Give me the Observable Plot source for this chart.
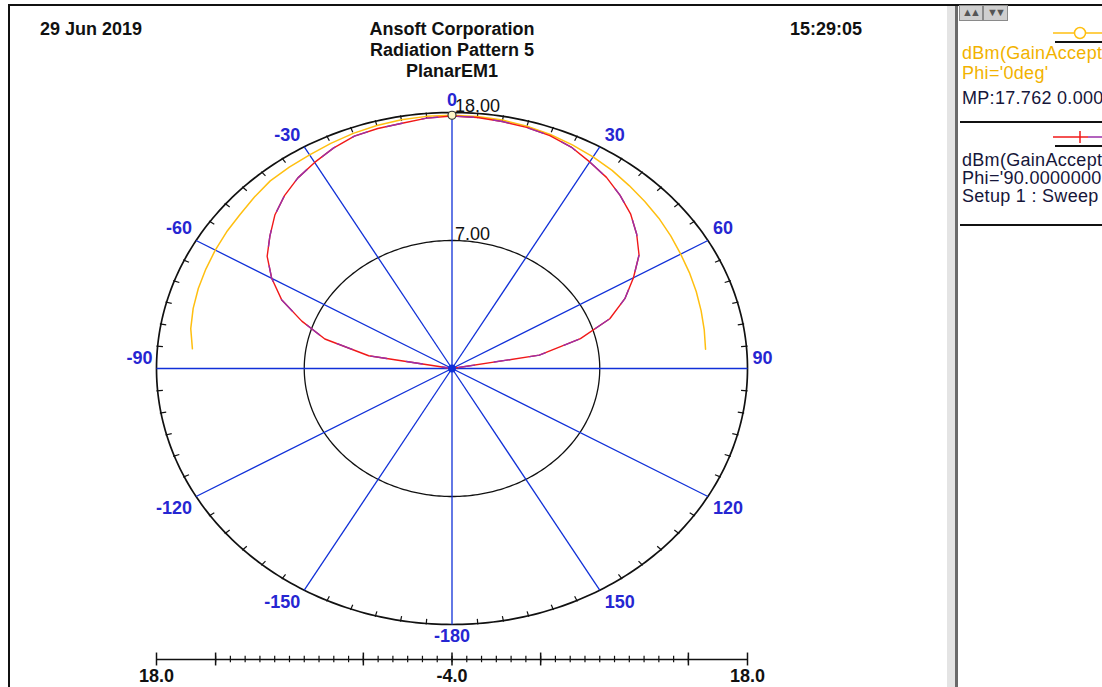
<!DOCTYPE html>
<html>
<head>
<meta charset="utf-8">
<script src="https://cdn.jsdelivr.net/npm/d3@7"></script>
<script src="https://cdn.jsdelivr.net/npm/@observablehq/plot@0.6"></script>
<style>
  html, body { margin: 0; padding: 0; background: #fff; }
  #page { position: relative; width: 1102px; height: 687px; overflow: hidden; background: #fff;
          font-family: "Liberation Sans", Arial, sans-serif; }
  .abs { position: absolute; }
  .hdr { font-weight: bold; font-size: 18px; color: #111; white-space: nowrap; line-height: 21px; }
  .leg { font-size: 18px; white-space: nowrap; line-height: 18px; color: #16163a; letter-spacing: 0.3px; }
  svg.plot { position: absolute; }
</style>
</head>
<body>
<div id="page"></div>
<script>
// ---------------- data ----------------
const headerLeft = "29 Jun 2019";
const headerTitle = ["Ansoft Corporation", "Radiation Pattern 5", "PlanarEM1"];
const headerRight = "15:29:05";

const radialMin = -4, radialMax = 18;
const radialRings = [7, 18];
const radialRingLabels = ["7.00", "18.00"];

const spokeAngles = [-180, -150, -120, -90, -60, -30, 0, 30, 60, 90, 120, 150];
const spokeLabels = ["-180", "-150", "-120", "-90", "-60", "-30", "0", "30", "60", "90", "120", "150"];

// trace 1: dBm(GainAccept) Phi='0deg'  (yellow)
const anglesPhi0 = [-85,-80,-75,-70,-65,-60,-55,-50,-45,-40,-35,-30,-25,-20,-15,-10,-5,0,5,10,15,20,25,30,35,40,45,50,55,60,65,70,75,80,85];
const gainPhi0 = [15.4,15.75,15.95,16.1,16.22,16.35,16.48,16.6,16.82,17.05,17.12,17.2,17.35,17.5,17.62,17.7,17.75,17.76,17.74,17.68,17.55,17.4,17.2,17.0,16.78,16.52,16.3,16.1,15.88,15.66,15.5,15.35,15.2,15.07,14.95];

// trace 2: dBm(GainAccept) Phi='90deg' (red / purple)
const anglesPhi90 = [-90,-85,-80,-75,-70,-65,-60,-55,-50,-45,-40,-35,-30,-25,-20,-15,-10,-5,0,5,10,15,20,25,30,35,40,45,50,55,60,65,70,75,80,85,90];
const gainPhi90 = [-6,-5,2.3,5.8,7.9,10.0,11.5,12.8,13.7,14.65,15.4,16.0,16.45,16.9,17.25,17.35,17.4,17.6,17.7,17.65,17.55,17.45,17.3,17.0,16.5,16.05,15.45,14.8,13.95,13.0,11.6,10.2,8.5,5.9,2.6,-5,-6];

const markerAngle = 0, markerValue = 17.762;

// bottom radial scale (subdivision units)
const scaleMajorTicks = [-20, -16, -6, 0, 6, 16, 20];
const scaleMinorTicks = [-16,-15,-14,-13,-12,-11,-10,-9,-8,-7,-6,-5,-4,-3,-2,-1,0,1,2,3,4,5,6,7,8,9,10,11,12,13,14,15,16];
const scaleLabelPos = [-20, 0, 20];
const scaleLabels = ["18.0", "-4.0", "18.0"];

const legendItems = [
  { lines: ["dBm(GainAccept", "Phi='0deg'"], extra: "MP:17.762 0.000" },
  { lines: ["dBm(GainAccept", "Phi='90.0000000", "Setup 1 : Sweep"] }
];

// ---------------- colors ----------------
const YELLOW = "#ffbf10", RED = "#f01818", PURPLE = "#9a2fa8", BLUE = "#1030d8", LABELBLUE = "#2626d2";

// ---------------- geometry helpers ----------------
const W = 1102, H = 640;
const CX = 451.5, CY = 368, RX = 295.5, RY = 256;
const rOf = v => Math.max(0, (v - radialMin) / (radialMax - radialMin));
const pt = (deg, r) => { const t = deg * Math.PI / 180; return { x: r * Math.sin(t), y: r * Math.cos(t) }; };
const polar = (deg, v) => pt(deg, rOf(v));

const ring = v => d3.range(0, 361, 1).map(a => polar(a, v));
const tickAngles = d3.range(-180, 180, 5).filter(a => a % 30 !== 0);

const tracePhi0 = anglesPhi0.map((a, i) => polar(a, gainPhi0[i]));
const tracePhi90 = anglesPhi90.map((a, i) => polar(a, gainPhi90[i]));

// label rows: anchor at end of spoke, shifted up/down a little
const spokeRows = spokeAngles.map((a, i) => {
  const e = pt(a, 1);
  const c = Math.cos(a * Math.PI / 180);
  const shiftPx = Math.abs(c) < 0.01 ? -10 : (c > 0 ? -12 : 12);
  return { a, label: spokeLabels[i], x: e.x, y: e.y - shiftPx / RY };
});
const rowsRight = spokeRows.filter(d => d.a > 0 && d.a < 180);
const rowsLeft = spokeRows.filter(d => d.a < 0 && d.a > -180);
const rowsMid = spokeRows.filter(d => d.a === 0 || d.a === -180);

const fontFamily = '"Liberation Sans", Arial, sans-serif';
const labelStyle = { x: "x", y: "y", text: "label", fill: LABELBLUE, fontWeight: "bold", fontSize: 18 };

const main = Plot.plot({
  width: W, height: H,
  marginLeft: 0, marginRight: 0, marginTop: 0, marginBottom: 0,
  x: { domain: [-CX / RX, (W - CX) / RX], axis: null },
  y: { domain: [(CY - H) / RY, CY / RY], axis: null },
  style: { background: "transparent", fontFamily, overflow: "visible" },
  marks: [
    // rings
    Plot.line(ring(radialRings[0]), { x: "x", y: "y", stroke: "#111", strokeWidth: 1.3 }),
    Plot.line(ring(radialRings[1]), { x: "x", y: "y", stroke: "#111", strokeWidth: 1.7 }),
    // tick marks on outer ring every 5 degrees
    Plot.link(tickAngles, {
      x1: a => pt(a, 0.982).x, y1: a => pt(a, 0.982).y,
      x2: a => pt(a, 1.004).x, y2: a => pt(a, 1.004).y,
      stroke: "#111", strokeWidth: 1.2
    }),
    // spokes
    Plot.link(spokeAngles, {
      x1: () => 0, y1: () => 0,
      x2: a => polar(a, radialMax).x, y2: a => polar(a, radialMax).y,
      stroke: BLUE, strokeWidth: 1.3
    }),
    // traces
    Plot.line(tracePhi0, { x: "x", y: "y", stroke: YELLOW, strokeWidth: 1.5 }),
    Plot.line(tracePhi90, { x: "x", y: "y", stroke: RED, strokeWidth: 1.4 }),
    Plot.line(tracePhi90, { x: "x", y: "y", stroke: PURPLE, strokeWidth: 1.4, strokeDasharray: "16,20", strokeDashoffset: 6 }),
    // center dot
    Plot.dot([{ x: 0, y: 0 }], { x: "x", y: "y", r: 3.2, fill: BLUE, stroke: BLUE }),
    // marker on max
    Plot.dot([polar(markerAngle, markerValue)], { x: "x", y: "y", r: 4, fill: "#fff6c8", stroke: "#333", strokeWidth: 1.2 }),
    // angle labels
    Plot.text(rowsRight, { ...labelStyle, textAnchor: "start", dx: 5 }),
    Plot.text(rowsLeft, { ...labelStyle, textAnchor: "end", dx: -4 }),
    Plot.text(rowsMid, { ...labelStyle, textAnchor: "middle" }),
    // ring labels
    Plot.text(radialRings, {
      x: v => polar(0, v).x, y: v => polar(0, v).y,
      text: (v, i) => radialRingLabels[i], fill: "#111", fontSize: 18,
      textAnchor: "start", dx: 3, dy: -6
    })
  ]
});

const scale = Plot.plot({
  width: W, height: 47,
  marginLeft: 156, marginRight: W - 747, marginTop: 0, marginBottom: 9,
  x: { domain: [-20, 20], axis: null },
  y: { domain: [-1, 1], axis: null },
  style: { background: "transparent", fontFamily, overflow: "visible" },
  marks: [
    Plot.ruleY([0], { x1: -20, x2: 20, stroke: "#111", strokeWidth: 1.6 }),
    Plot.ruleX(scaleMinorTicks, { x: d => d, y1: -0.17, y2: 0.17, stroke: "#111", strokeWidth: 1.2 }),
    Plot.ruleX(scaleMajorTicks, { x: d => d, y1: -0.34, y2: 0.34, stroke: "#111", strokeWidth: 1.5 }),
    Plot.text(scaleLabelPos, { x: d => d, y: () => -0.9, text: (d, i) => scaleLabels[i], fontWeight: "bold", fontSize: 18, fill: "#111" })
  ]
});

// ---------------- page assembly ----------------
const page = document.getElementById("page");
main.style.left = "0px"; main.style.top = "0px";
scale.style.left = "0px"; scale.style.top = "640px";
page.appendChild(main);
page.appendChild(scale);

function div(cls, css, text) {
  const d = document.createElement("div");
  d.className = "abs " + (cls || "");
  Object.assign(d.style, css);
  if (text != null) d.textContent = text;
  page.appendChild(d);
  return d;
}

// frame lines
div("", { left: "8px", top: "4px", width: "1094px", height: "2px", background: "#111" });
div("", { left: "8px", top: "4px", width: "2px", height: "683px", background: "#111" });
// divider between plot and legend
div("", { left: "947px", top: "6px", width: "8px", height: "681px", background: "#e4e4e4" });
div("", { left: "955px", top: "6px", width: "3px", height: "681px", background: "#6a6a6a" });

// header
div("hdr", { left: "40px", top: "19px" }, headerLeft);
const t = div("hdr", { left: "302px", top: "19px", width: "300px", textAlign: "center" });
t.innerHTML = headerTitle.join("<br>");
div("hdr", { left: "790px", top: "19px" }, headerRight);

// legend panel buttons
div("", { left: "959px", top: "5px", width: "22px", height: "14px", background: "#cfcfcf", border: "1px solid #8a8a8a" });
div("", { left: "983px", top: "5px", width: "23px", height: "14px", background: "#cfcfcf", border: "1px solid #8a8a8a" });
div("", { left: "962px", top: "7px", fontSize: "11px", color: "#555", lineHeight: "11px", letterSpacing: "-3px" }, "▲▲");
div("", { left: "987px", top: "7px", fontSize: "11px", color: "#555", lineHeight: "11px", letterSpacing: "-3px" }, "▼▼");

// legend symbols
const sym1 = document.createElementNS("http://www.w3.org/2000/svg", "svg");
sym1.setAttribute("width", "60"); sym1.setAttribute("height", "26");
sym1.style.position = "absolute"; sym1.style.left = "1050px"; sym1.style.top = "24px";
sym1.innerHTML = `<line x1="3" y1="9" x2="60" y2="9" stroke="${YELLOW}" stroke-width="1.5"/>
<circle cx="30" cy="9" r="5.5" fill="#fff" stroke="${YELLOW}" stroke-width="1.5"/>
<line x1="5" y1="18" x2="60" y2="18" stroke="#111" stroke-width="2"/>`;
page.appendChild(sym1);

const sym2 = document.createElementNS("http://www.w3.org/2000/svg", "svg");
sym2.setAttribute("width", "60"); sym2.setAttribute("height", "26");
sym2.style.position = "absolute"; sym2.style.left = "1050px"; sym2.style.top = "128px";
sym2.innerHTML = `<line x1="3" y1="9" x2="38" y2="9" stroke="${RED}" stroke-width="1.5"/>
<line x1="38" y1="9" x2="60" y2="9" stroke="${PURPLE}" stroke-width="1.5"/>
<line x1="30" y1="3" x2="30" y2="15" stroke="${RED}" stroke-width="1.5"/>
<line x1="5" y1="18" x2="60" y2="18" stroke="#111" stroke-width="2"/>`;
page.appendChild(sym2);

// legend text
div("leg", { left: "962px", top: "44px", color: "#f2b200" }, legendItems[0].lines[0]);
div("leg", { left: "962px", top: "64px", color: "#f2b200" }, legendItems[0].lines[1]);
div("leg", { left: "962px", top: "89px", width: "140px", overflow: "hidden" }, legendItems[0].extra);
div("", { left: "960px", top: "121px", width: "142px", height: "2px", background: "#111" });
div("leg", { left: "962px", top: "151px" }, legendItems[1].lines[0]);
div("leg", { left: "962px", top: "169px" }, legendItems[1].lines[1]);
div("leg", { left: "962px", top: "187px" }, legendItems[1].lines[2]);
div("", { left: "960px", top: "224px", width: "142px", height: "2px", background: "#111" });
</script>
</body>
</html>
